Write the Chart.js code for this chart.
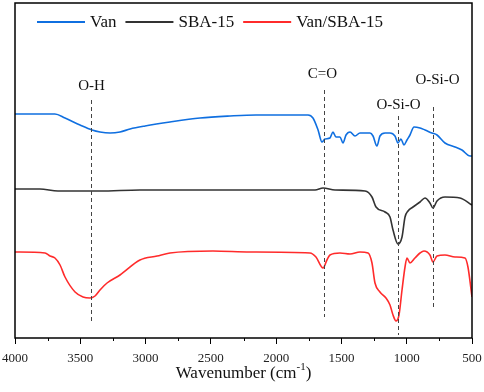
<!DOCTYPE html>
<html>
<head>
<meta charset="utf-8">
<script src="https://cdn.jsdelivr.net/npm/chart.js@4.4.0/dist/chart.umd.min.js"></script>
<style>
  html, body { margin: 0; padding: 0; background: #fff; }
</style>
</head>
<body>
<canvas id="myChart" width="484" height="392"></canvas>
<script>
const ctx = document.getElementById('myChart');

// series names
const seriesNames = ['Van', 'SBA-15', 'Van/SBA-15'];
const seriesColors = ['#0f6fe0', '#333333', '#ff2b2b'];

// Van (wavenumber, transmittance a.u.)
const vanWn = [4000, 3847, 3694, 3617, 3502, 3410, 3349, 3272, 3196, 3119, 3004, 2813, 2583, 2353, 2154, 1970, 1817, 1756,
  1718, 1679, 1649, 1626, 1588, 1565, 1542, 1511, 1488, 1465, 1434, 1396, 1358, 1319, 1281, 1258, 1228, 1205, 1166, 1128,
  1090, 1067, 1044, 1021, 998, 975, 944, 898, 860, 807, 768, 707, 630, 577, 515, 500];
const vanT = [224, 224, 224, 220, 213, 208, 206, 205, 206, 209, 212, 216, 220, 222, 223, 223, 223, 223,
  220, 208, 196, 199, 200, 206, 201, 201, 195, 203, 206, 202, 205, 205, 205, 202, 192, 202, 205, 205,
  202, 195, 199, 193, 198, 203, 211, 210, 208, 205, 203, 195, 191, 188, 182, 182];

// SBA-15
const sbaWn = [4000, 3809, 3671, 3349, 3043, 2583, 2200, 1817, 1702, 1641, 1549, 1319, 1266, 1235, 1166, 1128, 1105,
  1067, 1036, 1013, 990, 952, 898, 860, 822, 799, 768, 707, 592, 500];
const sbaT = [149, 149, 147, 147, 148, 148, 148, 148, 148, 150, 148, 147, 141, 131, 126, 121, 108,
  94, 101, 121, 127, 131, 136, 140, 135, 130, 137, 141, 140, 133];

// Van/SBA-15
const mixWn = [4000, 3770, 3732, 3694, 3655, 3617, 3540, 3479, 3426, 3387, 3349, 3295, 3196, 3043, 2912, 2813, 2484, 2200,
  1741, 1695, 1641, 1611, 1588, 1511, 1434, 1358, 1296, 1266, 1243, 1205, 1159, 1128, 1105, 1082, 1059, 1036, 1013, 998,
  975, 937, 898, 868, 822, 799, 768, 707, 630, 554, 531, 500];
const mixT = [86, 85, 82, 80, 73, 61, 46, 41, 40, 42, 48, 55, 63, 78, 82, 85, 87, 86,
  85, 81, 70, 78, 83, 85, 84, 86, 85, 75, 55, 46, 40, 33, 23, 17, 23, 48, 71, 80,
  75, 80, 85, 87, 83, 76, 82, 83, 81, 80, 71, 41];

// band assignments (dashed markers)
const peakWn = [3420, 1635, 1067, 800];
const peakLabels = ['O-H', 'C=O', 'O-Si-O', 'O-Si-O'];
const peakTop = [238, 248, 222, 231];
const peakBottom = [16, 21, 3, 28];

// label placement relative to the top of each marker (px)
const labelLift = [10, 12, 7, 23];
const labelShift = [0, -2, 0, 4];

const serif = '"Liberation Serif", "Times New Roman", serif';

function pts(wn, t) {
  return wn.map((w, i) => ({ x: w, y: t[i] }));
}

const extras = {
  id: 'extras',
  afterDraw(chart) {
    const c = chart.ctx;
    const a = chart.chartArea;
    const xs = chart.scales.x;
    const ys = chart.scales.y;
    c.save();

    // minor ticks
    c.strokeStyle = '#000';
    c.lineWidth = 1;
    for (let v = 750; v < 4000; v += 500) {
      const px = Math.round(xs.getPixelForValue(v)) + 0.5;
      c.beginPath();
      c.moveTo(px, a.bottom);
      c.lineTo(px, a.bottom + 3);
      c.stroke();
    }

    // dashed band markers
    c.setLineDash([4, 3]);
    c.strokeStyle = '#444';
    c.lineWidth = 1;
    c.font = '15px ' + serif;
    c.fillStyle = '#111';
    c.textAlign = 'center';
    c.textBaseline = 'alphabetic';
    peakWn.forEach((w, i) => {
      const px = Math.round(xs.getPixelForValue(w)) + 0.5;
      const top = ys.getPixelForValue(peakTop[i]);
      c.beginPath();
      c.moveTo(px, top);
      c.lineTo(px, ys.getPixelForValue(peakBottom[i]));
      c.stroke();
      c.fillText(peakLabels[i], px + labelShift[i], top - labelLift[i]);
    });
    c.setLineDash([]);

    // frame
    c.strokeStyle = '#000';
    c.lineWidth = 1.5;
    c.strokeRect(a.left, a.top, a.right - a.left, a.bottom - a.top);

    // legend
    c.font = '17px ' + serif;
    c.textAlign = 'left';
    c.textBaseline = 'middle';
    let x = 37;
    const ly = 22;
    chart.data.datasets.forEach(ds => {
      c.strokeStyle = ds.borderColor;
      c.lineWidth = 2;
      c.beginPath();
      c.moveTo(x, ly);
      c.lineTo(x + 48, ly);
      c.stroke();
      x += 53;
      c.fillStyle = '#111';
      c.fillText(ds.label, x, ly + 1);
      x += c.measureText(ds.label).width + 9;
    });

    // axis title with superscript
    const t1 = 'Wavenumber (cm';
    const sup = '-1';
    const t2 = ')';
    c.font = '17px ' + serif;
    const w1 = c.measureText(t1).width;
    const w3 = c.measureText(t2).width;
    c.font = '11px ' + serif;
    const w2 = c.measureText(sup).width;
    let tx = (a.left + a.right) / 2 - (w1 + w2 + w3) / 2;
    const ty = 378;
    c.textBaseline = 'alphabetic';
    c.fillStyle = '#111';
    c.font = '17px ' + serif;
    c.fillText(t1, tx, ty);
    tx += w1;
    c.font = '11px ' + serif;
    c.fillText(sup, tx, ty - 8);
    tx += w2;
    c.font = '17px ' + serif;
    c.fillText(t2, tx, ty);

    c.restore();
  }
};

function draw()
{
  new Chart(ctx, {
    type: 'line',
    data: {
      datasets: [
        { label: seriesNames[0], data: pts(vanWn, vanT), borderColor: seriesColors[0] },
        { label: seriesNames[1], data: pts(sbaWn, sbaT), borderColor: seriesColors[1] },
        { label: seriesNames[2], data: pts(mixWn, mixT), borderColor: seriesColors[2] }
      ]
    },
    options: {
      responsive: false,
      animation: false,
      layout: { padding: { left: 15, right: 12, top: 3, bottom: 0 } },
      elements: {
        point: { radius: 0 },
        line: { borderWidth: 1.6, cubicInterpolationMode: 'monotone', fill: false }
      },
      plugins: {
        legend: { display: false },
        tooltip: { enabled: false }
      },
      scales: {
        x: {
          type: 'linear',
          min: 500,
          max: 4000,
          reverse: true,
          ticks: {
            stepSize: 500,
            padding: 7,
            maxRotation: 0,
            autoSkip: false,
            color: '#222',
            font: { family: serif, size: 13 },
            callback: v => String(v)
          },
          grid: { drawOnChartArea: false, tickLength: 6, color: '#000', lineWidth: 1 },
          border: { display: false },
          afterFit: s => {
            s.height = 54;
            s.paddingLeft = 0;
            s.paddingRight = 0;
          }
        },
        y: {
          display: false,
          min: 0,
          max: 335
        }
      }
    },
    plugins: [extras]
  });
}

draw();
</script>
</body>
</html>
